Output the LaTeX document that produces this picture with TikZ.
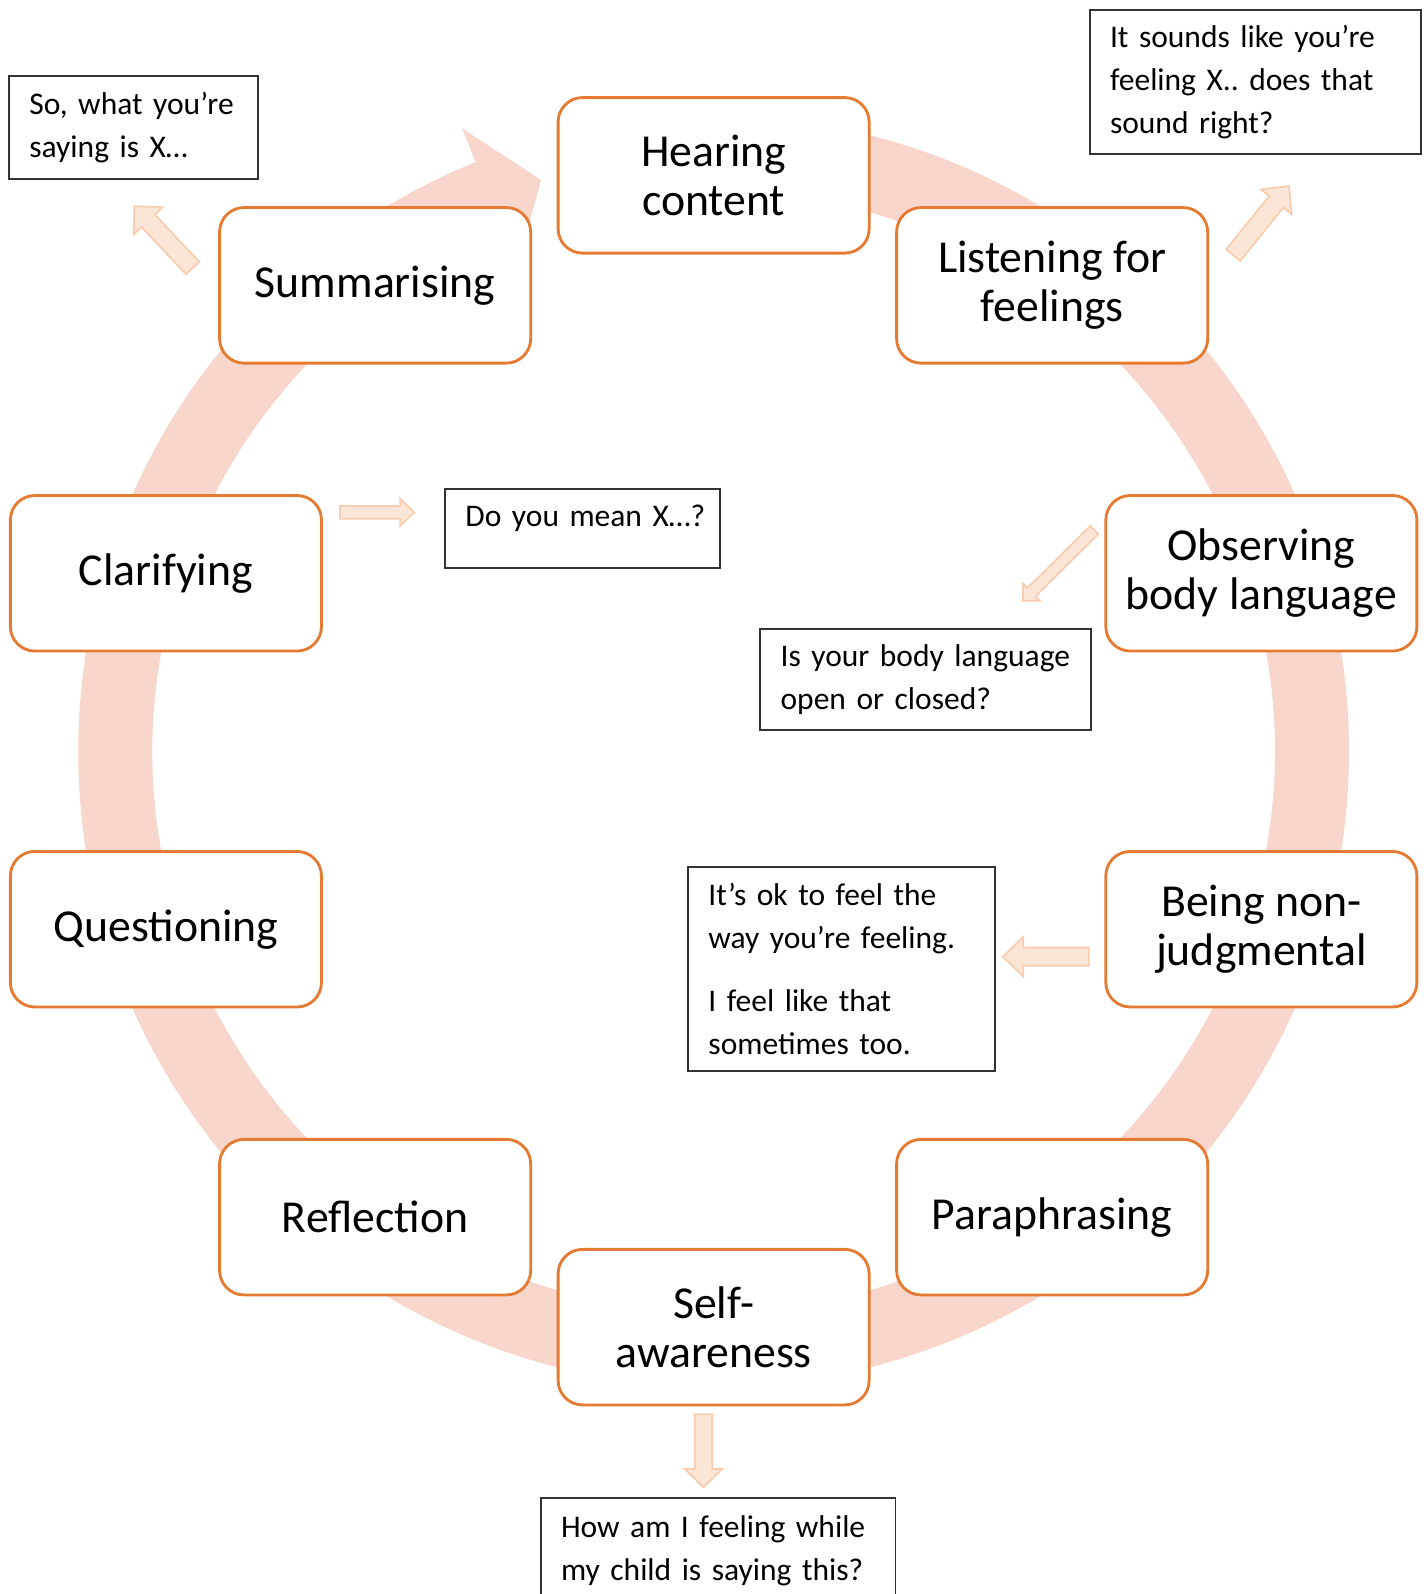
\documentclass[tikz,border=0pt]{standalone}
\usepackage{fontspec}
\setmainfont{Carlito}
\usetikzlibrary{calc}

\definecolor{ringpink}{HTML}{F8D6CB}
\definecolor{skillorange}{HTML}{E57B33}
\definecolor{hintfill}{HTML}{FBE5D6}
\definecolor{hintline}{HTML}{F8CBAD}

\tikzset{
  skill/.style={draw=skillorange, line width=1.4pt, fill=white, rounded corners=12pt,
    minimum width=153pt, minimum height=76.5pt, align=center, inner sep=2pt,
    font=\fontsize{22.5}{24}\selectfont},
  callout/.style={draw=black!80, line width=0.9pt, fill=white, anchor=north west,
    align=left, inner xsep=10pt, inner ysep=3pt,
    font=\fontsize{15.5}{21}\selectfont\frenchspacing},
  hint/.style={fill=hintfill, draw=hintline, line width=0.8pt}
}

% block arrow from #1 to #2: half shaft, half head, head length
\newcommand{\hintarrow}[5]{%
  \coordinate (#2-base) at ($(#2)!#5!(#1)$);
  \draw[hint] ($(#1)!#3!90:(#2)$) -- ($(#2-base)!#3!90:(#2)$) -- ($(#2-base)!#4!90:(#2)$)
    -- (#2) -- ($(#2-base)!#4!-90:(#2)$) -- ($(#2-base)!#3!-90:(#2)$)
    -- ($(#1)!#3!-90:(#2)$) -- cycle;}

\begin{document}
\begin{tikzpicture}[x=0.5pt, y=0.5pt]
  \useasboundingbox (-702,-829) rectangle (702,739);

  % Ring with its arrow head
  \fill[ringpink] (88:625) arc[start angle=88, end angle=-248, radius=625]
    -- (112:661) -- (106.8:587) -- (112:515) -- (-248:552)
    arc[start angle=-248, end angle=88, radius=552] -- cycle;

  % Skills round the ring
  \foreach \ang/\nm/\txt in {90/hear/{Hearing\\content}, 54/listen/{Listening for\\feelings},
      18/observe/{Observing\\body language}, -18/judge/{Being non-\\judgmental},
      -54/para/{Paraphrasing}, -90/self/{Self-\\awareness}, -126/reflect/{Reflection},
      -162/question/{Questioning}, 162/clarify/{Clarifying}, 126/summ/{Summarising}}
    \node[skill] (\nm) at (\ang:566.5) {\txt};

  % Example phrases
  \node[callout, minimum width=122.5pt, minimum height=50.5pt, text width=102.5pt] (saying)
    at (-694,665) {So, what you’re\\saying is X…};
  \node[callout, minimum width=163pt, minimum height=71pt, text width=143pt] (soundright)
    at (369,730) {It sounds like you’re\\feeling X.. does that\\sound right?};
  \node[callout, minimum width=135pt, minimum height=39pt, text width=115pt, text depth=12.5pt] (meanx)
    at (-265,259) {\mbox{Do you mean X…?}};
  \node[callout, minimum width=162.5pt, minimum height=49.5pt, text width=142.5pt] (openclosed)
    at (45,121) {Is your body language\\open or closed?};
  \node[callout, minimum width=151pt, minimum height=100.5pt, text width=131pt] (feelok)
    at (-26,-113) {It’s ok to feel the\\way you’re feeling.\\[10pt]I feel like that\\sometimes too.};
  \node[callout, minimum width=174.5pt, minimum height=51.5pt, text width=154.5pt] (howfeel)
    at (-171,-734) {How am I feeling while\\my child is saying this?};

  % Block arrows to the phrases
  \coordinate (summ-from) at (-512.4,475.3);  \coordinate (summ-to) at (-570,536.3);
  \coordinate (listen-from) at (511,488);     \coordinate (listen-to) at (566,556);
  \coordinate (clarify-from) at (-367.5,235); \coordinate (clarify-to) at (-294.4,235);
  \coordinate (observe-from) at (374.4,217.6); \coordinate (observe-to) at (304.2,148);
  \coordinate (judge-from) at (369,-202);     \coordinate (judge-to) at (284.5,-202);
  \coordinate (self-from) at (-10,-652);      \coordinate (self-to) at (-10,-724);
  \hintarrow{summ-from}{summ-to}{4.5pt}{9.75pt}{10pt}
  \hintarrow{listen-from}{listen-to}{4.5pt}{9.75pt}{10pt}
  \hintarrow{clarify-from}{clarify-to}{3.2pt}{6.75pt}{7pt}
  \hintarrow{observe-from}{observe-to}{2.85pt}{5.9pt}{6pt}
  \hintarrow{judge-from}{judge-to}{4.5pt}{9.75pt}{10pt}
  \hintarrow{self-from}{self-to}{4.3pt}{9.25pt}{9pt}
\end{tikzpicture}
\end{document}
